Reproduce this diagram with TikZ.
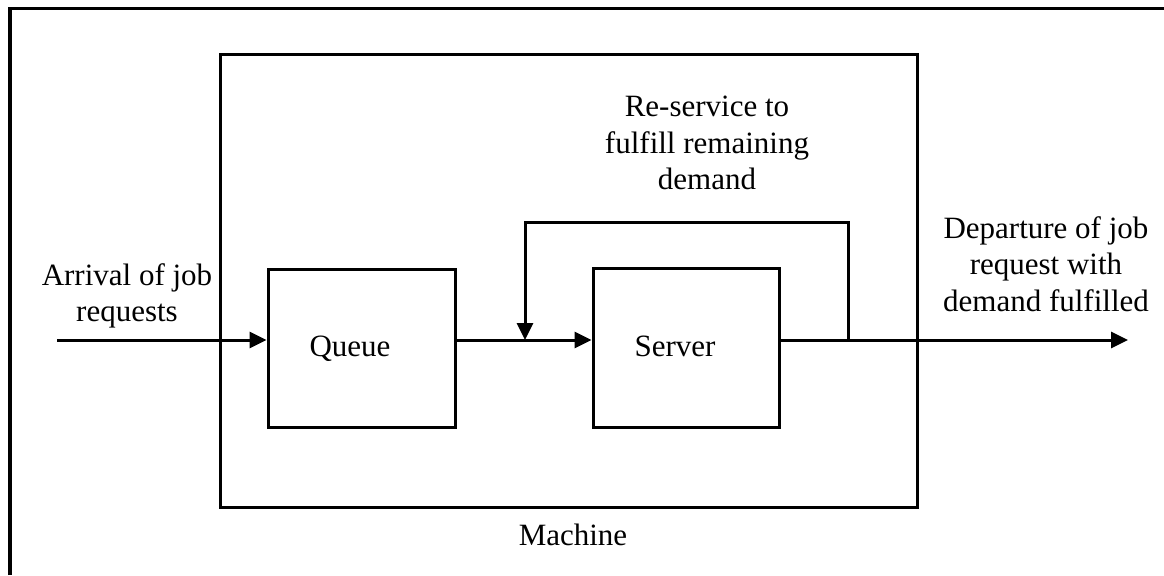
\documentclass[tikz,border=0pt]{standalone}
\usepackage{fontspec}
\setmainfont{Liberation Serif}
\usetikzlibrary{arrows.meta}
\tikzset{
  box/.style={draw, line width=1.5pt, inner sep=0pt},
  lbl/.style={inner sep=0pt, align=center, font=\fontsize{15.5}{18.2}\selectfont},
  conn/.style={line width=1.5pt},
  arr/.style={conn, -{Triangle[length=8.5pt,width=8pt]}}
}
\begin{document}
\begin{tikzpicture}[x=0.5pt,y=-0.5pt]
\useasboundingbox (0,0) rectangle (1164,575);
% outer frame (only left and top edges visible)
\coordinate (fbl) at (10,575);
\coordinate (ftl) at (10,8.5);
\coordinate (ftr) at (1164,8.5);
\draw[line width=1.7pt] (fbl) -- (ftl) -- (ftr);
% boxes
\node[box, minimum width=348.5pt, minimum height=226.5pt] (machine) at (568.5,280.5) {};
\node[box, minimum width=93.5pt, minimum height=79pt] (queue) at (361.5,348) {};
\node[box, minimum width=93pt, minimum height=79.5pt] (server) at (686,347.5) {};
% texts
\node[lbl, anchor=base] (tq) at (350,356) {Queue};
\node[lbl, anchor=base] (ts) at (675,356) {Server};
\node[lbl, anchor=base] (tm) at (573,545) {Machine};
\node[lbl] (tarr) at (127,296) {Arrival of job\\requests};
\node[lbl] (tres) at (707,143) {Re-service to\\fulfill remaining\\demand};
\node[lbl] (tdep) at (1046,264) {Departure of job\\request with\\demand fulfilled};
% connectors
\coordinate (in) at (57,340);
\coordinate (out) at (1128,340);
\coordinate (fb1) at (848,340);
\coordinate (fb2) at (525,340);
\draw[arr] (in) -- (in -| queue.west);
\draw[arr] (queue.east |- in) -- (server.west |- in);
\draw[arr] (server.east |- in) -- (out);
\draw[arr] (fb1) -- ++(0,-118) -| (fb2);
\end{tikzpicture}
\end{document}
